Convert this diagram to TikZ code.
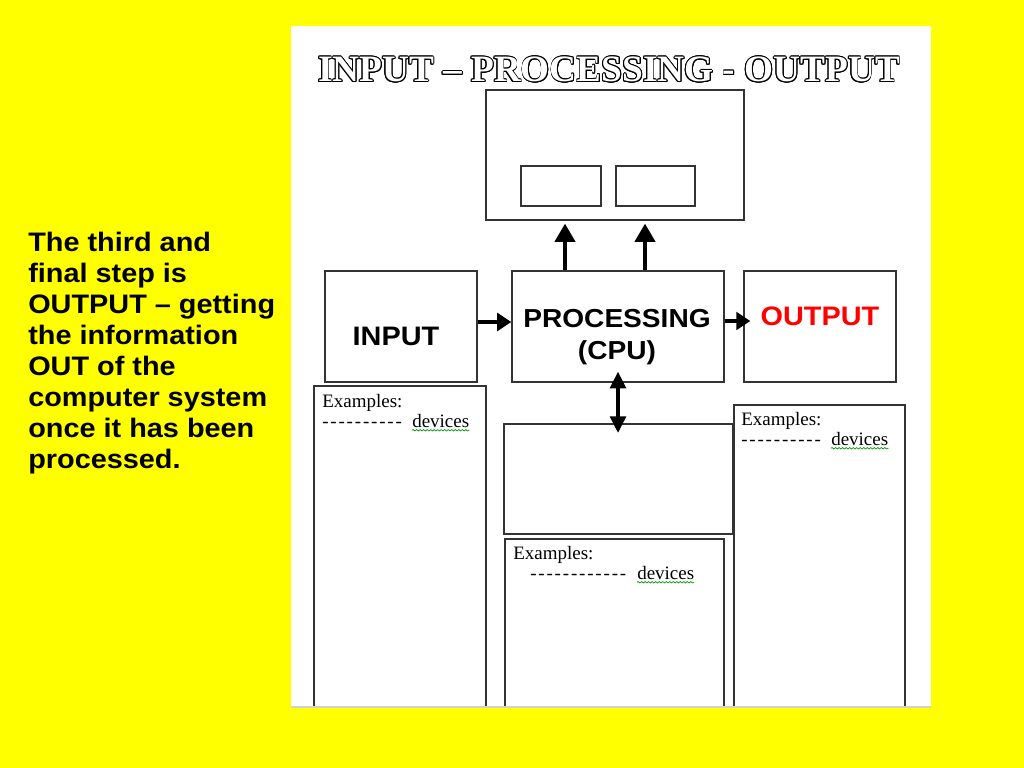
\documentclass[tikz,border=0pt]{standalone}
\usepackage{fontspec}
\setmainfont{Liberation Serif}
\newfontfamily\labelfont[FakeStretch=1.08]{Liberation Sans}
\usepackage[copies]{contour}
\contourlength{0.6pt}
\usetikzlibrary{arrows.meta,fit,decorations.pathmorphing}

\definecolor{slideyellow}{HTML}{FFFF00}
\definecolor{outred}{HTML}{FF0000}
\definecolor{boxline}{HTML}{333333}

\tikzset{
  box/.style={draw=boxline, line width=1pt, inner sep=0pt, fill=white},
  fatarrow/.style={line width=3.5pt, -{Triangle[length=10pt,width=12.5pt]}},
  uparrow/.style={line width=3.5pt, -{Triangle[length=13pt,width=14pt]}},
  twoway/.style={line width=3.5pt, {Triangle[length=12pt,width=11pt]}-{Triangle[length=12pt,width=11pt]}},
  heading/.style={font=\labelfont\bfseries\fontsize{19}{22}\selectfont},
  exfont/.style={font=\fontsize{13.5}{16}\selectfont, inner sep=0pt, anchor=base west},
  squiggle/.style={draw=green!60!black, line width=0.5pt, decorate,
    decoration={snake, amplitude=0.5pt, segment length=2.5pt}}
}
\newcommand{\blanks}[1]{\foreach \k in {1,...,#1}{-\kern1.3pt}}

\begin{document}
\begin{tikzpicture}[x=0.025cm, y=-0.025cm]
\fill[slideyellow] (0,0) rectangle (1024,768);
\fill[white] (291,26) rectangle (931,708);
\draw[gray!35, line width=1pt] (291,707) -- (931,707);

\node[font=\bfseries\fontsize{26.5}{30}\selectfont] (title) at (609,70)
  {\contour{black}{\textcolor{white}{INPUT – PROCESSING - OUTPUT}}};

% storage box with two slots
\node[box, fit={(486,90) (744,220)}] (store) {};
\node[box, fit={(521,166) (601,206)}] (slota) {};
\node[box, fit={(616,166) (695,206)}] (slotb) {};

% the three steps
\node[box, fit={(325,271) (477,382)}] (input) {};
\node[box, fit={(512,271) (724,382)}] (proc) {};
\node[box, fit={(744,271) (896,382)}] (output) {};

\node[heading] (inlabel) at (396,336) {INPUT};
\node[heading, align=center, font=\labelfont\bfseries\fontsize{18.5}{23}\selectfont] (proclabel) at (617,337) {PROCESSING\\(CPU)};
\node[heading, text=outred] (outlabel) at (820,316) {OUTPUT};

% example panels, cut off at the foot of the page
\begin{scope}
\clip (291,26) rectangle (931,705);
\node[box, fit={(314,386) (486,730)}] (exin) {};
\node[box, fit={(504,424) (733,534)}] (mem) {};
\node[box, fit={(505,539) (724,730)}] (exmem) {};
\node[box, fit={(734,405) (905,730)}] (exout) {};
\end{scope}

\node[exfont] (exa) at (322,407) {Examples:};
\node[exfont] (dasha) at (322,427) {\blanks{10}};
\node[exfont] (deva) at (412,427) {devices};

\node[exfont] (exb) at (513,559) {Examples:};
\node[exfont] (dashb) at (530,579) {\blanks{12}};
\node[exfont] (devb) at (637,579) {devices};

\node[exfont] (exc) at (741,425) {Examples:};
\node[exfont] (dashc) at (741,445) {\blanks{10}};
\node[exfont] (devc) at (831,445) {devices};

\draw[squiggle] ([yshift=-2pt]deva.south west) -- ([yshift=-2pt]deva.south east);
\draw[squiggle] ([yshift=-2pt]devb.south west) -- ([yshift=-2pt]devb.south east);
\draw[squiggle] ([yshift=-2pt]devc.south west) -- ([yshift=-2pt]devc.south east);

% arrows
\draw[fatarrow] (input.east |- 0,322) -- (proc.west |- 0,322);
\draw[fatarrow, shorten >=-5pt] (proc.east |- 0,321) -- (output.west |- 0,321);
\draw[uparrow, shorten >=2pt] (proc.north -| 565,0) -- (store.south -| 565,0);
\draw[uparrow, shorten >=2pt] (proc.north -| 645,0) -- (store.south -| 645,0);
\draw[twoway, shorten <=-8pt, shorten >=-7pt] (proc.south -| 618,0) -- (mem.north -| 618,0);

\node[heading, anchor=north west, align=left, inner sep=0pt] (note) at (28,232)
  {The third and\\final step is\\OUTPUT – getting\\the information\\OUT of the\\computer system\\once it has been\\processed.};
\end{tikzpicture}
\end{document}
